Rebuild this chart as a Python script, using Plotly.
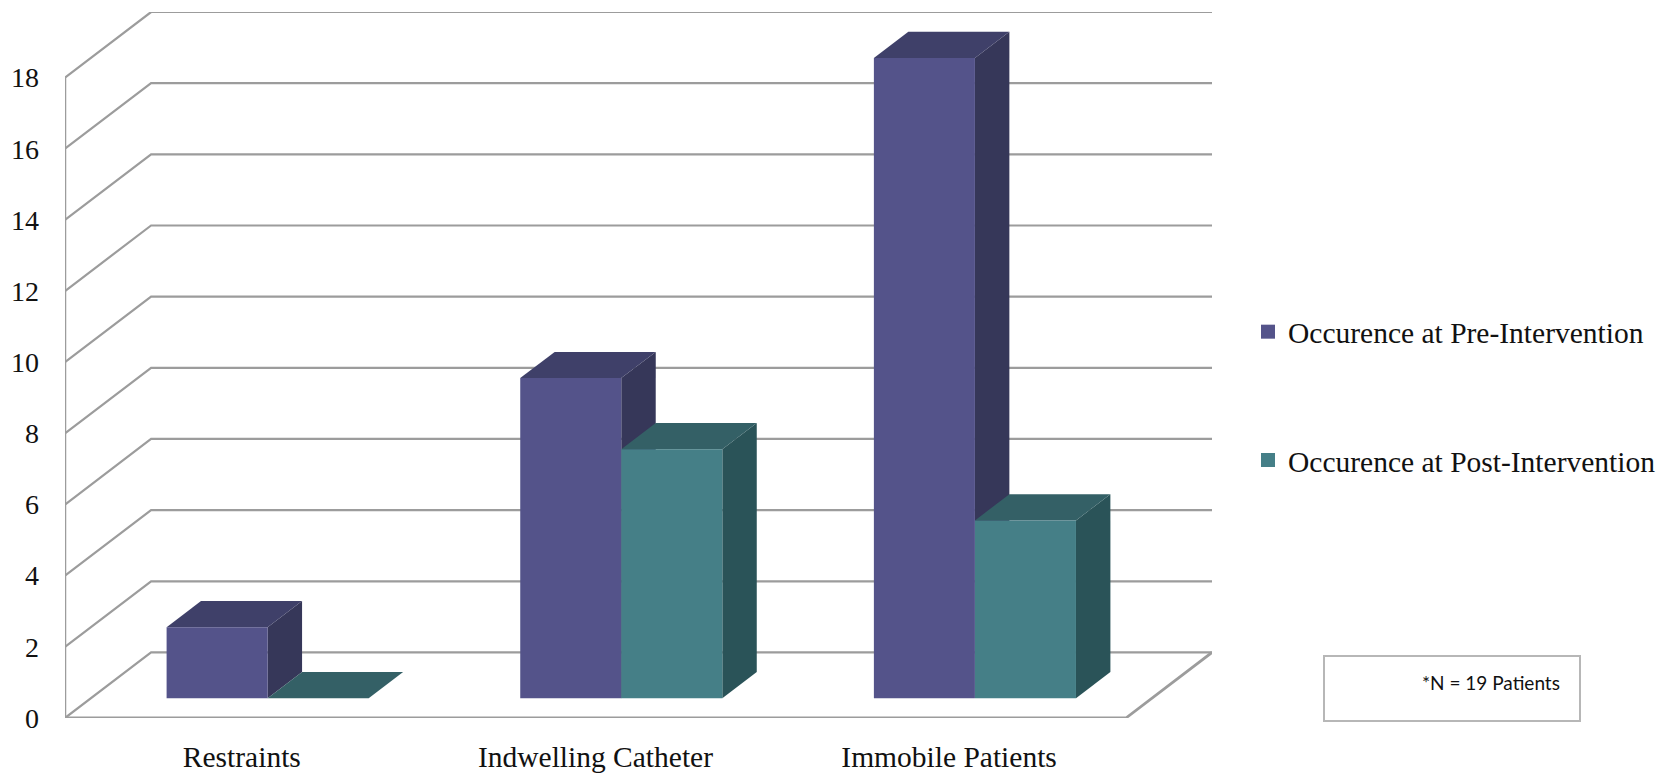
import plotly.graph_objects as go

# Chart values
categories = ["Restraints", "Indwelling Catheter", "Immobile Patients"]
pre_values = [2, 9, 18]
post_values = [0, 7, 5]
y_ticks = [0, 2, 4, 6, 8, 10, 12, 14, 16, 18]

pre_name = "Occurence at Pre-Intervention"
post_name = "Occurence at Post-Intervention"
note_text = "*N = 19 Patients"

# Plot frame in pixels
WIDTH, HEIGHT = 1673, 773
LEFT, RIGHT, TOP, BOTTOM = 65, 1212, 12, 718

# Oblique projection of the depth axis, in category and value units
DEPTH_X = 86 / 353.33
DEPTH_Y = 65.6 / 35.6

# Column layout: a 150% gap width, with columns 40% of the floor depth
BAR_WIDTH = 1 / 3.5
NEAR, FAR = 0.30, 0.70

SERIF = "Liberation Serif, serif"
GRID = "#9c9c9c"
PRE_FACES = {"front": "#54538a", "top": "#3f4069", "side": "#363759"}
POST_FACES = {"front": "#457f87", "top": "#346066", "side": "#2a5358"}


def project(x, y, depth):
    return x + depth * DEPTH_X, y + depth * DEPTH_Y


def add_polygon(fig, corners, color):
    xs = [c[0] for c in corners] + [corners[0][0]]
    ys = [c[1] for c in corners] + [corners[0][1]]
    fig.add_trace(go.Scatter(
        x=xs, y=ys, mode="lines", fill="toself", fillcolor=color,
        line=dict(width=0, color=color), hoverinfo="skip",
        showlegend=False, cliponaxis=False,
    ))


def add_column(fig, x0, x1, value, faces):
    if value > 0:
        add_polygon(fig, [project(x1, 0, NEAR), project(x1, 0, FAR),
                          project(x1, value, FAR), project(x1, value, NEAR)],
                    faces["side"])
    add_polygon(fig, [project(x0, value, NEAR), project(x1, value, NEAR),
                      project(x1, value, FAR), project(x0, value, FAR)],
                faces["top"])
    if value > 0:
        add_polygon(fig, [project(x0, 0, NEAR), project(x1, 0, NEAR),
                          project(x1, value, NEAR), project(x0, value, NEAR)],
                    faces["front"])


def add_wire(fig, xs, ys, width):
    fig.add_trace(go.Scatter(
        x=xs, y=ys, mode="lines", line=dict(color=GRID, width=width),
        hoverinfo="skip", showlegend=False, cliponaxis=False,
    ))


fig = go.Figure()
n = len(categories)

# Side and back walls: each tick runs up the side wall and along the back wall
for tick in y_ticks:
    add_wire(fig, [0, DEPTH_X, n + DEPTH_X],
             [tick, tick + DEPTH_Y, tick + DEPTH_Y], 2.2)

# Vertical edge of the side wall and the outline of the floor
add_wire(fig, [0, 0], [y_ticks[0], y_ticks[-1]], 2.5)
add_wire(fig, [0, n, n + DEPTH_X], [0, 0, DEPTH_Y], 2.8)

# Columns, drawn left to right so each one hides the side of its neighbour
for i in range(n):
    mid = i + 0.5
    add_column(fig, mid - BAR_WIDTH, mid, pre_values[i], PRE_FACES)
    add_column(fig, mid, mid + BAR_WIDTH, post_values[i], POST_FACES)

# Legend entries
for name, faces in ((pre_name, PRE_FACES), (post_name, POST_FACES)):
    fig.add_trace(go.Scatter(
        x=[None], y=[None], mode="markers", name=name, legendgroup=name,
        marker=dict(symbol="square", size=14, color=faces["front"]),
    ))


def paper_x(px):
    return (px - LEFT) / (RIGHT - LEFT)


def paper_y(px):
    return (BOTTOM - px) / (BOTTOM - TOP)


fig.update_layout(
    width=WIDTH, height=HEIGHT,
    margin=dict(l=LEFT, r=WIDTH - RIGHT, t=TOP, b=HEIGHT - BOTTOM, autoexpand=False),
    paper_bgcolor="white", plot_bgcolor="white",
    font=dict(family=SERIF, size=29.5, color="#111111"),
    xaxis=dict(
        range=[0, n + DEPTH_X], tickvals=[i + 0.5 for i in range(n)],
        ticktext=categories, showgrid=False, zeroline=False, showline=False,
        ticks="", ticklabelstandoff=18, tickfont=dict(family=SERIF, size=29.5),
    ),
    yaxis=dict(
        range=[0, y_ticks[-1] + DEPTH_Y], tickvals=y_ticks,
        showgrid=False, zeroline=False, showline=False,
        ticks="", ticklabelstandoff=25, tickfont=dict(family=SERIF, size=28),
    ),
    legend=dict(
        x=paper_x(1248), xanchor="left", y=paper_y(306), yanchor="top",
        tracegroupgap=87, bgcolor="rgba(0,0,0,0)", font=dict(family=SERIF, size=29.5),
    ),
    shapes=[dict(
        type="rect", xref="paper", yref="paper",
        x0=paper_x(1324), x1=paper_x(1580), y0=paper_y(656), y1=paper_y(721),
        line=dict(color="#b7b7b7", width=2), fillcolor="rgba(0,0,0,0)",
    )],
    annotations=[dict(
        text=note_text, xref="paper", yref="paper",
        x=paper_x(1562), y=paper_y(682), xanchor="right", yanchor="middle",
        showarrow=False, font=dict(family="Lato, sans-serif", size=19, color="#111111"),
    )],
)

fig.write_html("out.html")
